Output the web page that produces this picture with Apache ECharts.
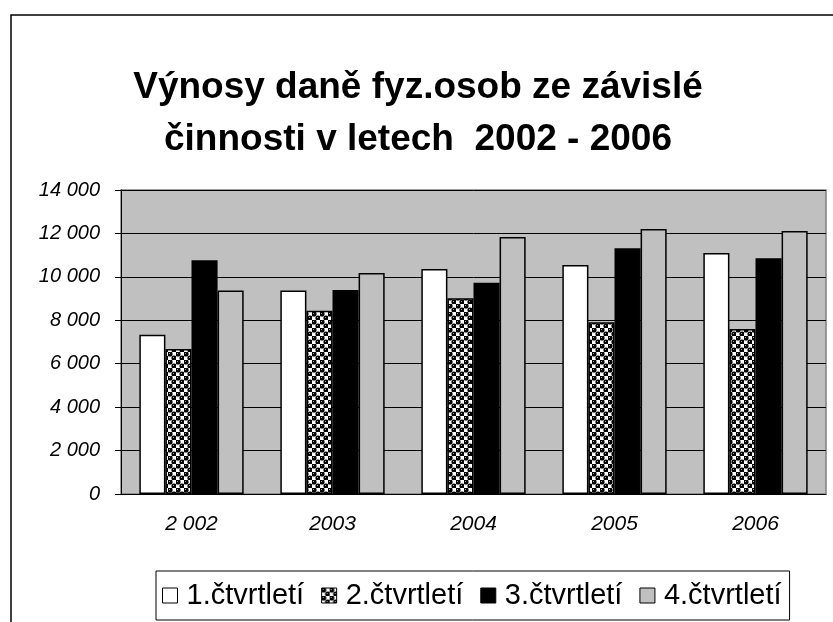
<!DOCTYPE html>
<html>
<head>
<meta charset="utf-8">
<script src="https://cdn.jsdelivr.net/npm/echarts@6/dist/echarts.min.js"></script>
<style>
  html, body { margin: 0; padding: 0; background: #fff; }
  #main { width: 833px; height: 622px; }
</style>
</head>
<body>
<div id="main"></div>
<script>
// data
const years = ['2 002', '2003', '2004', '2005', '2006'];
const seriesNames = ['1.čtvrtletí', '2.čtvrtletí', '3.čtvrtletí', '4.čtvrtletí'];
const q1 = [7330, 9370, 10360, 10550, 11100];
const q2 = [6680, 8440, 9010, 7910, 7600];
const q3 = [10760, 9400, 9730, 11320, 10860];
const q4 = [9370, 10180, 11840, 12200, 12110];
const yTicks = [0, 2000, 4000, 6000, 8000, 10000, 12000, 14000];

// vzor pro 2. čtvrtletí (kuličky)
function makePattern() {
  const c = document.createElement('canvas');
  c.width = 8;
  c.height = 8;
  const ctx = c.getContext('2d');
  ctx.fillStyle = '#fff';
  ctx.fillRect(0, 0, 8, 8);
  ctx.fillStyle = '#000';
  [[2, 2], [6, 6]].forEach(function (p) {
    ctx.beginPath();
    ctx.arc(p[0], p[1], 2.6, 0, Math.PI * 2);
    ctx.fill();
  });
  ctx.fillStyle = '#999';
  ctx.fillRect(1, 1, 1, 1);
  ctx.fillRect(5, 5, 1, 1);
  return c;
}

function fmt(v) {
  return String(v).replace(/\B(?=(\d{3})+(?!\d))/g, ' ');
}

const myChart = echarts.init(document.getElementById('main'));
const fills = ['#ffffff', { image: makePattern(), repeat: 'repeat' }, '#000000', '#c0c0c0'];
const values = [q1, q2, q3, q4];

const option = {
  animation: false,
  backgroundColor: '#fff',
  title: {
    text: 'Výnosy daně fyz.osob ze závislé\nčinnosti v letech  2002 - 2006',
    left: 413,
    top: 57,
    textAlign: 'center',
    textStyle: {
      fontFamily: 'Liberation Sans, Arial',
      fontWeight: 'bold',
      fontSize: 37,
      lineHeight: 52,
      color: '#000'
    }
  },
  legend: {
    data: seriesNames,
    left: 156,
    top: 571,
    orient: 'horizontal',
    padding: [10, 8, 10, 6],
    itemGap: 17,
    itemWidth: 15,
    itemHeight: 15,
    borderColor: '#000',
    borderWidth: 1,
    icon: 'rect',
    itemStyle: { borderColor: '#000', borderWidth: 1 },
    textStyle: {
      fontFamily: 'Liberation Sans, Arial',
      fontSize: 29,
      color: '#000',
      padding: [0, 0, 0, 4]
    }
  },
  grid: {
    left: 121,
    right: 7,
    top: 190,
    bottom: 128,
    show: true,
    backgroundColor: '#c0c0c0',
    borderColor: '#808080',
    borderWidth: 1.5
  },
  xAxis: {
    type: 'category',
    data: years,
    axisLine: { lineStyle: { color: '#000', width: 1 } },
    axisTick: { length: 6, lineStyle: { color: '#000' } },
    axisLabel: {
      margin: 20,
      fontFamily: 'Liberation Sans, Arial',
      fontStyle: 'italic',
      fontSize: 21,
      color: '#000'
    }
  },
  yAxis: {
    type: 'value',
    min: yTicks[0],
    max: yTicks[yTicks.length - 1],
    interval: 2000,
    axisLine: { show: true, lineStyle: { color: '#000', width: 1 } },
    axisTick: { show: true, length: 6, lineStyle: { color: '#000' } },
    splitLine: { lineStyle: { color: '#000', width: 1 } },
    axisLabel: {
      margin: 21,
      fontFamily: 'Liberation Sans, Arial',
      fontStyle: 'italic',
      fontSize: 20,
      color: '#000',
      formatter: fmt
    }
  },
  series: seriesNames.map(function (name, i) {
    return {
      name: name,
      type: 'bar',
      data: values[i],
      barGap: '0%',
      barCategoryGap: '26%',
      itemStyle: { color: fills[i], borderColor: '#000', borderWidth: 1.5 }
    };
  }),
  graphic: [
    {
      type: 'rect',
      silent: true,
      shape: { x: 11, y: 15, width: 900, height: 700 },
      style: { fill: 'none', stroke: '#000', lineWidth: 1.5 }
    }
  ]
};

myChart.setOption(option);
</script>
</body>
</html>
